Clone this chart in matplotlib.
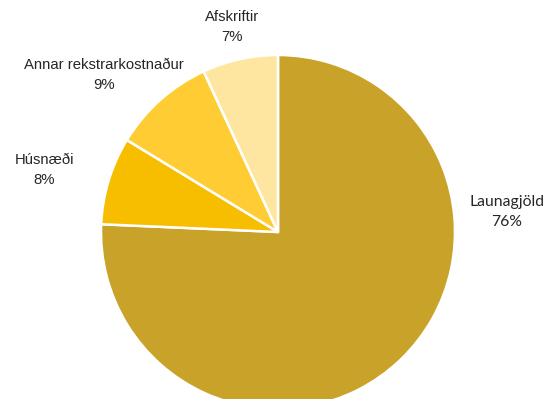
import matplotlib
matplotlib.use('Agg')
import matplotlib.pyplot as plt

# data (shares, labels shown rounded)
labels = ['Launagjöld', 'Húsnæði', 'Annar rekstrarkostnaður', 'Afskriftir']
values = [75.7, 8.0, 9.4, 6.9]
colors = ['#C9A22A', '#F7BE00', '#FFCD33', '#FFE6A0']

W, H = 551, 399
fig = plt.figure(figsize=(W / 100, H / 100), dpi=100)
ax = fig.add_axes([0, 0, 1, 1])

cx, cy, r = 278, H - 232, 177
ax.pie(values, colors=colors, startangle=90, counterclock=False,
       radius=r, center=(cx, cy), frame=True,
       wedgeprops=dict(edgecolor='white', linewidth=1.8))
ax.set_xlim(0, W)
ax.set_ylim(0, H)
ax.set_aspect('equal')
ax.axis('off')

# label positions in pixels (x, y of first line)
pos = [(507, 202), (44, 160), (104, 65), (232, 17)]
for i, (lab, v) in enumerate(zip(labels, values)):
    x, y = pos[i]
    fam = 'Lato' if i == 0 else 'Liberation Sans'
    fs = 11.3 if i == 0 else 10.7
    ax.text(x, H - y, lab, ha='center', va='center', fontsize=fs,
            family=fam, color='#262626')
    ax.text(x, H - y - 20, f'{v:.0f}%', ha='center', va='center', fontsize=fs,
            family=fam, color='#262626')

fig.savefig('out.png', dpi=100)
